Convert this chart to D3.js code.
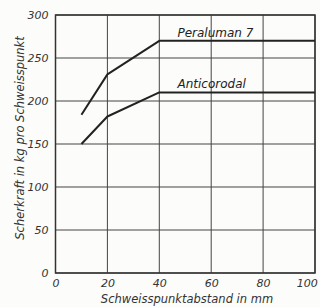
<!DOCTYPE html>
<html>
<head>
<meta charset="utf-8">
<script src="https://cdn.jsdelivr.net/npm/d3@7"></script>
<style>
  body { margin: 0; background: #fcfcfa; }
  svg { display: block; }
  .tick text { font-family: "DejaVu Sans", sans-serif; font-style: italic; font-size: 11px; fill: #333; }
</style>
</head>
<body>
<div id="chart"></div>
<script>
var svgWidth = 320;
var svgHeight = 307;

var margin = { top: 15, right: 5, bottom: 34, left: 55.5 };
var width = svgWidth - margin.left - margin.right;
var height = svgHeight - margin.top - margin.bottom;

// data
var xTicks = [0, 20, 40, 60, 80, 100];
var yTicks = [0, 50, 100, 150, 200, 250, 300];
var distance = [10, 20, 40, 100];
var peraluman = [184, 231, 270, 270];
var anticorodal = [150, 182, 210, 210];
var seriesNames = ["Peraluman 7", "Anticorodal"];

var svg = d3.select("#chart")
  .append("svg")
  .attr("width", svgWidth)
  .attr("height", svgHeight);

var chartGroup = svg.append("g")
  .attr("transform", `translate(${margin.left}, ${margin.top})`);

var xScale = d3.scaleLinear().domain([0, 100]).range([0, width]);
var yScale = d3.scaleLinear().domain([0, 300]).range([height, 0]);

// grid
chartGroup.append("g")
  .selectAll("line")
  .data(xTicks)
  .enter()
  .append("line")
  .attr("x1", d => xScale(d)).attr("x2", d => xScale(d))
  .attr("y1", 0).attr("y2", height)
  .attr("stroke", "#444").attr("stroke-width", 1);

chartGroup.append("g")
  .selectAll("line")
  .data(yTicks)
  .enter()
  .append("line")
  .attr("x1", 0).attr("x2", width)
  .attr("y1", d => yScale(d)).attr("y2", d => yScale(d))
  .attr("stroke", "#444").attr("stroke-width", 1);

chartGroup.append("rect")
  .attr("width", width).attr("height", height)
  .attr("fill", "none").attr("stroke", "#333").attr("stroke-width", 1.5);

// axes (labels only)
var bottomAxis = d3.axisBottom(xScale).tickValues(xTicks).tickSize(0).tickPadding(6);
var leftAxis = d3.axisLeft(yScale).tickValues(yTicks).tickSize(0).tickPadding(7);

chartGroup.append("g")
  .attr("transform", `translate(0, ${height})`)
  .call(bottomAxis)
  .call(g => g.select(".domain").remove())
  // keep the last label inside the page
  .call(g => g.selectAll(".tick text").filter(d => d === 100)
    .attr("text-anchor", "end").attr("dx", "0.2em"));

chartGroup.append("g")
  .call(leftAxis)
  .call(g => g.select(".domain").remove());

// lines
var line = d3.line()
  .x((d, i) => xScale(distance[i]))
  .y(d => yScale(d));

[peraluman, anticorodal].forEach(function(values) {
  chartGroup.append("path")
    .attr("d", line(values))
    .attr("fill", "none")
    .attr("stroke", "#222")
    .attr("stroke-width", 2)
    .attr("stroke-linejoin", "round");
});

// series labels
chartGroup.append("text")
  .attr("x", xScale(47)).attr("y", yScale(270) - 4)
  .attr("font-family", "DejaVu Sans, sans-serif")
  .attr("font-style", "italic").attr("font-size", 12).attr("fill", "#222")
  .text(seriesNames[0]);

chartGroup.append("text")
  .attr("x", xScale(47)).attr("y", yScale(210) - 4)
  .attr("font-family", "DejaVu Sans, sans-serif")
  .attr("font-style", "italic").attr("font-size", 12).attr("fill", "#222")
  .text(seriesNames[1]);

// axis titles
svg.append("text")
  .attr("x", 187).attr("y", 303)
  .attr("text-anchor", "middle")
  .attr("font-family", "DejaVu Sans, sans-serif")
  .attr("font-style", "italic").attr("font-size", 11.5).attr("fill", "#333")
  .text("Schweisspunktabstand in mm");

svg.append("text")
  .attr("transform", "translate(24, 138) rotate(-90)")
  .attr("text-anchor", "middle")
  .attr("font-family", "DejaVu Sans, sans-serif")
  .attr("font-style", "italic").attr("font-size", 11.5).attr("fill", "#333")
  .text("Scherkraft in kg pro Schweisspunkt");
</script>
</body>
</html>
